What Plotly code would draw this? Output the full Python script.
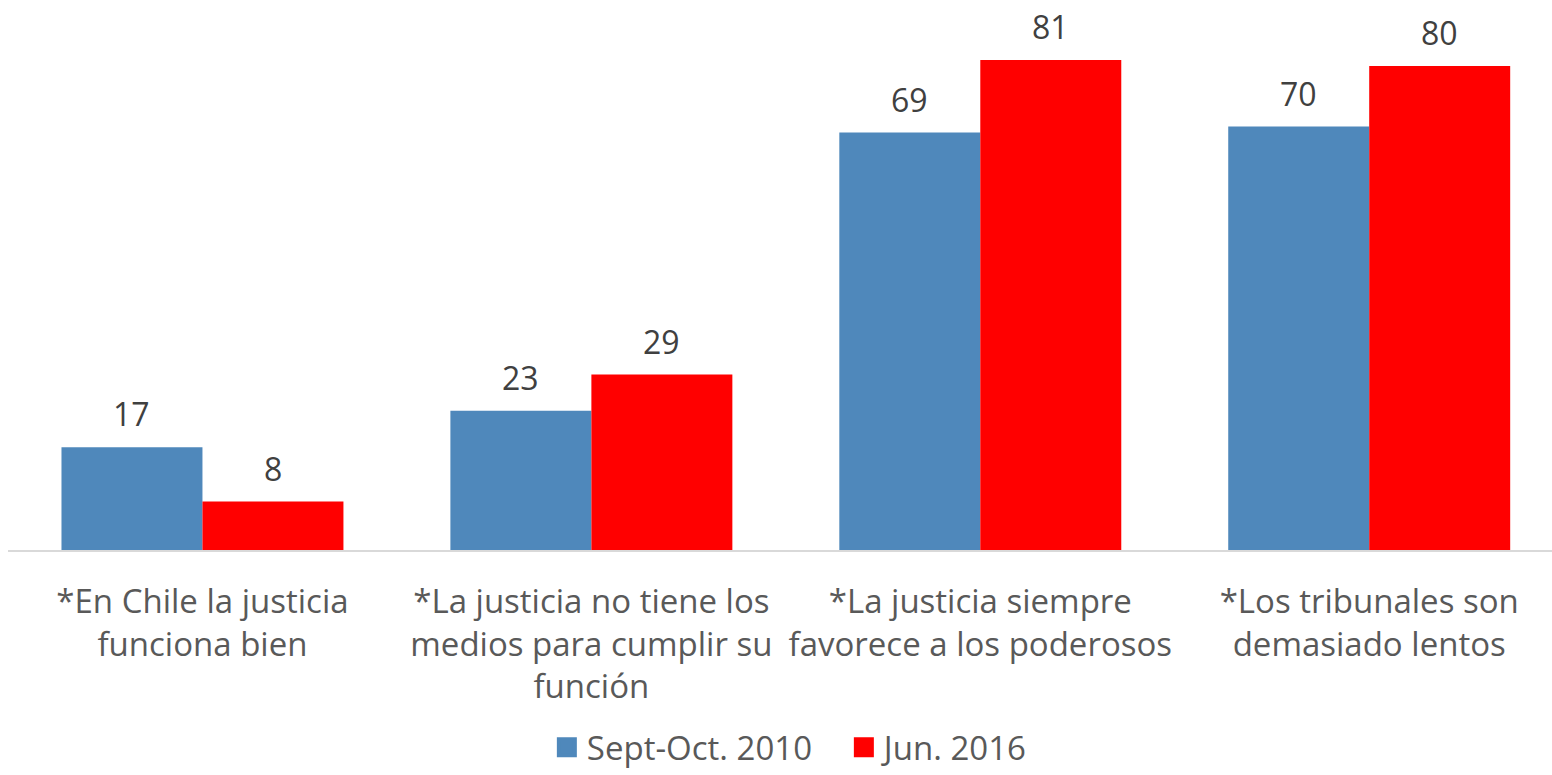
import plotly.graph_objects as go

categories = [
    "*En Chile la justicia<br>funciona bien",
    "*La justicia no tiene los<br>medios para cumplir su<br>función",
    "*La justicia siempre<br>favorece a los poderosos",
    "*Los tribunales son<br>demasiado lentos",
]
series_names = ["Sept-Oct. 2010", "Jun. 2016"]
values_2010 = [17, 23, 69, 70]
values_2016 = [8, 29, 81, 80]
colors = ["#4F88BB", "#FF0000"]

FONT = "Open Sans"
FS = 32
x_idx = list(range(len(categories)))

fig = go.Figure()
for name, vals, col in zip(series_names, [values_2010, values_2016], colors):
    fig.add_trace(go.Bar(
        x=x_idx, y=vals, name=name, marker=dict(color=col, line=dict(width=0)),
        showlegend=False, textposition="none",
    ))
# legend proxies
for name, col in zip(series_names, colors):
    fig.add_trace(go.Scatter(
        x=[None], y=[None], mode="markers", name=name,
        marker=dict(symbol="square", size=16, color=col, line=dict(color=col, width=4)),
    ))

# data labels
offsets = [-0.1813, 0.1813]
for vals, off in zip([values_2010, values_2016], offsets):
    for i, v in enumerate(vals):
        fig.add_annotation(
            x=i + off, y=v, text=str(v), showarrow=False,
            yanchor="bottom", yshift=10,
            font=dict(family=FONT, size=FS, color="#404040"),
        )

fig.update_layout(
    width=1552, height=775,
    margin=dict(l=8, r=0, t=8, b=225, autoexpand=False),
    barmode="group", bargap=0.275, bargroupgap=0,
    plot_bgcolor="white", paper_bgcolor="white",
    font=dict(family=FONT, size=FS, color="#595959"),
    legend=dict(orientation="h", x=0.349, xanchor="left", y=-0.364, yanchor="middle",
                font=dict(family=FONT, size=33, color="#595959"),
                itemwidth=30, tracegroupgap=0, entrywidth=252),
    xaxis=dict(tickmode="array", tickvals=x_idx, ticktext=categories,
               range=[-0.5, 3.47], showline=True, linecolor="#D9D9D9", linewidth=2,
               showgrid=False, zeroline=False, ticks="", automargin=False,
               ticklabelstandoff=21,
               tickfont=dict(family=FONT, size=33, color="#595959")),
    yaxis=dict(range=[0, 89.6], visible=False, showgrid=False, zeroline=False,
               automargin=False),
)

fig.write_html("out.html", config={"displayModeBar": False},
               post_script="document.body.style.margin='0';")
